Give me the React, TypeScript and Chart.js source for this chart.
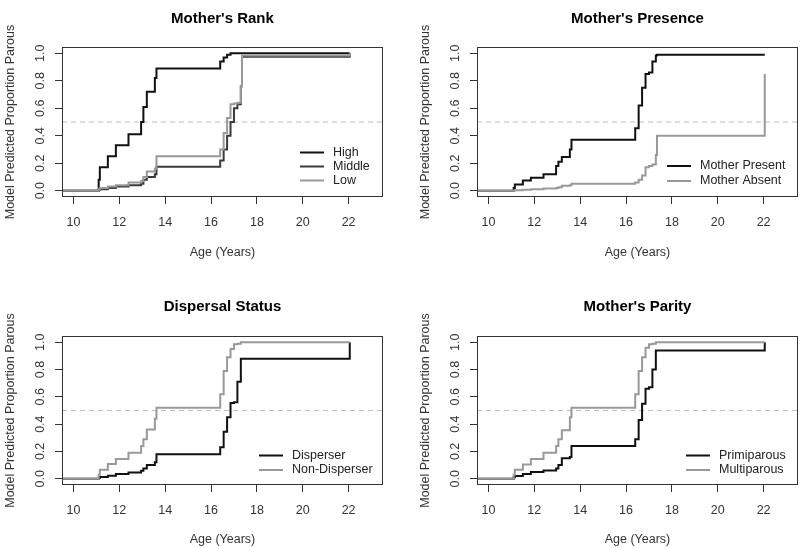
import React, { useEffect, useRef } from 'react';
import { Chart, registerables } from 'chart.js';

Chart.register(...registerables);

// ---------- data ----------
const ageYears = [9.5, 11.1, 11.15, 11.5, 11.85, 12.4, 12.95, 13.05, 13.2, 13.55, 13.62, 16.4, 16.55, 16.7, 16.85, 17.0, 17.15, 17.3, 17.35, 22.05];

const rankHigh = [0, 0.08, 0.17, 0.25, 0.33, 0.41, 0.5, 0.61, 0.72, 0.82, 0.89, 0.94, 0.97, 0.99, 1.0, 1.0, 1.0, 1.0, 1.0, 1.0];
const rankMiddle = [0, 0.005, 0.01, 0.02, 0.03, 0.04, 0.05, 0.08, 0.1, 0.12, 0.175, 0.22, 0.3, 0.4, 0.5, 0.6, 0.63, 0.76, 0.975, 1.0];
const rankLow = [0, 0.01, 0.02, 0.03, 0.04, 0.06, 0.07, 0.1, 0.14, 0.16, 0.25, 0.3, 0.42, 0.53, 0.63, 0.635, 0.64, 0.76, 0.985, 1.0];

const presenceMotherPresent = [0, 0.02, 0.045, 0.075, 0.095, 0.12, 0.18, 0.21, 0.245, 0.3, 0.37, 0.455, 0.62, 0.75, 0.85, 0.86, 0.94, 0.985, 0.99, 0.99];
const presenceMotherAbsent = [0, 0.002, 0.004, 0.007, 0.01, 0.015, 0.02, 0.025, 0.035, 0.04, 0.05, 0.06, 0.08, 0.11, 0.17, 0.18, 0.19, 0.26, 0.4, 0.85];

const dispersalDisperser = [0, 0.005, 0.012, 0.022, 0.034, 0.046, 0.058, 0.075, 0.1, 0.12, 0.18, 0.23, 0.345, 0.45, 0.555, 0.56, 0.71, 0.88, 0.88, 1.0];
const dispersalNonDisperser = [0, 0.03, 0.066, 0.107, 0.145, 0.19, 0.24, 0.29, 0.36, 0.44, 0.52, 0.62, 0.79, 0.89, 0.95, 0.985, 0.99, 1.0, 1.0, 1.0];

const parityPrimiparous = [0, 0.01, 0.02, 0.035, 0.05, 0.06, 0.075, 0.1, 0.15, 0.16, 0.24, 0.29, 0.43, 0.55, 0.66, 0.67, 0.8, 0.94, 0.94, 1.0];
const parityMultiparous = [0, 0.03, 0.066, 0.105, 0.145, 0.19, 0.24, 0.29, 0.355, 0.45, 0.52, 0.62, 0.79, 0.89, 0.96, 0.985, 0.99, 1.0, 1.0, 1.0];

const xTickValues = [10, 12, 14, 16, 18, 20, 22];
const yTickValues = [0, 0.2, 0.4, 0.6, 0.8, 1.0];
const xLimits = [9.5, 23.5];
const yLimits = [-0.046, 1.046];
const referenceLevel = 0.5;

const panelTitles = ["Mother's Rank", "Mother's Presence", 'Dispersal Status', "Mother's Parity"];
const xAxisLabel = 'Age (Years)';
const yAxisLabel = 'Model Predicted Proportion Parous';

const rankLabels = ['High', 'Middle', 'Low'];
const presenceLabels = ['Mother Present', 'Mother Absent'];
const dispersalLabels = ['Disperser', 'Non-Disperser'];
const parityLabels = ['Primiparous', 'Multiparous'];

// ---------- styling / layout ----------
const FONT = '"Liberation Sans", Arial, Helvetica, sans-serif';
const TEXT_SIZE = 12.5;
const BLACK = '#111111';
const DARK = '#3a3a3a';
const GREY = '#999999';
const W = 400;
const H = 274;

type Series = { label: string; values: number[]; color: string };
type Geom = {
  left: number; right: number; top: number; bottom: number;
  titleTop: number; yTitlePad: number; xTitlePad: number;
  legendX: number; legendLastY: number; legendGap: number;
};

const panels: { title: string; series: Series[]; geom: Geom; pos: [number, number] }[] = [
  {
    title: panelTitles[0],
    series: [
      { label: rankLabels[0], values: rankHigh, color: BLACK },
      { label: rankLabels[1], values: rankMiddle, color: DARK },
      { label: rankLabels[2], values: rankLow, color: GREY },
    ],
    geom: { left: 62, right: 383, top: 47, bottom: 197, titleTop: 9.5, yTitlePad: 2.8, xTitlePad: 13.8, legendX: 300, legendLastY: 180.5, legendGap: 14 },
    pos: [0, 0],
  },
  {
    title: panelTitles[1],
    series: [
      { label: presenceLabels[0], values: presenceMotherPresent, color: BLACK },
      { label: presenceLabels[1], values: presenceMotherAbsent, color: GREY },
    ],
    geom: { left: 77, right: 398, top: 47, bottom: 197, titleTop: 9.5, yTitlePad: 18.5, xTitlePad: 13.8, legendX: 267, legendLastY: 181, legendGap: 15 },
    pos: [400, 0],
  },
  {
    title: panelTitles[2],
    series: [
      { label: dispersalLabels[0], values: dispersalDisperser, color: BLACK },
      { label: dispersalLabels[1], values: dispersalNonDisperser, color: GREY },
    ],
    geom: { left: 62, right: 383, top: 62, bottom: 211, titleTop: 24, yTitlePad: 2.8, xTitlePad: 0.5, legendX: 259, legendLastY: 196, legendGap: 14.5 },
    pos: [0, 274],
  },
  {
    title: panelTitles[3],
    series: [
      { label: parityLabels[0], values: parityPrimiparous, color: BLACK },
      { label: parityLabels[1], values: parityMultiparous, color: GREY },
    ],
    geom: { left: 77, right: 398, top: 62, bottom: 211, titleTop: 24, yTitlePad: 18.5, xTitlePad: 0.5, legendX: 286, legendLastY: 196, legendGap: 14.5 },
    pos: [400, 274],
  },
];

const boxPlugin = {
  id: 'rbox',
  afterDatasetsDraw(chart: any) {
    const { ctx, chartArea: a } = chart;
    ctx.save();
    ctx.strokeStyle = '#333333';
    ctx.lineWidth = 1;
    ctx.strokeRect(Math.round(a.left) + 0.5, Math.round(a.top) + 0.5, Math.round(a.right - a.left) - 1, Math.round(a.bottom - a.top) - 1);
    ctx.restore();
  },
};

const legendPlugin = {
  id: 'rlegend',
  afterDraw(chart: any, _args: any, opts: any) {
    const { ctx } = chart;
    const items = chart.data.datasets.filter((d: any) => d.label);
    ctx.save();
    ctx.font = `${TEXT_SIZE}px ${FONT}`;
    ctx.textBaseline = 'middle';
    ctx.textAlign = 'left';
    items.forEach((d: any, i: number) => {
      const y = opts.lastY - (items.length - 1 - i) * opts.gap;
      ctx.strokeStyle = d.borderColor;
      ctx.lineWidth = 2;
      ctx.beginPath();
      ctx.moveTo(opts.x, y);
      ctx.lineTo(opts.x + 24, y);
      ctx.stroke();
      ctx.fillStyle = '#222222';
      ctx.fillText(d.label, opts.x + 33, y);
    });
    ctx.restore();
  },
};

function buildConfig(p: (typeof panels)[number]): any {
  const g = p.geom;
  const n = p.series.length;
  const datasets: any[] = p.series.map((s, i) => ({
    label: s.label,
    data: ageYears.map((t, k) => ({ x: t, y: s.values[k] })),
    borderColor: s.color,
    backgroundColor: s.color,
    borderWidth: 2,
    pointRadius: 0,
    stepped: 'before',
    fill: false,
    order: n - i,
  }));
  datasets.push({
    label: '',
    data: [
      { x: xLimits[0], y: referenceLevel },
      { x: xLimits[1], y: referenceLevel },
    ],
    borderColor: '#bdbdbd',
    borderWidth: 1,
    borderDash: [5, 4],
    pointRadius: 0,
    fill: false,
    order: n + 5,
  });

  const tickFont = { family: FONT, size: TEXT_SIZE, lineHeight: 1.2 };

  return {
    type: 'line',
    data: { datasets },
    options: {
      animation: false,
      responsive: false,
      maintainAspectRatio: false,
      events: [],
      layout: { padding: { left: 0, top: 0, right: W - g.right, bottom: 0 } },
      plugins: {
        legend: { display: false },
        tooltip: { enabled: false },
        title: {
          display: true,
          text: p.title,
          fullSize: false,
          color: '#000000',
          font: { family: FONT, size: 15, weight: 'bold', lineHeight: 1.2 },
          padding: { top: g.titleTop, bottom: g.top - g.titleTop - 18 },
        },
        rlegend: { x: g.legendX, lastY: g.legendLastY, gap: g.legendGap },
      },
      scales: {
        x: {
          type: 'linear',
          min: xLimits[0],
          max: xLimits[1],
          afterBuildTicks: (s: any) => {
            s.ticks = xTickValues.map((v) => ({ value: v }));
          },
          afterFit: (s: any) => {
            s.height = H - g.bottom;
            s.paddingLeft = 0;
            s.paddingRight = 0;
          },
          ticks: {
            autoSkip: false,
            maxRotation: 0,
            minRotation: 0,
            padding: 11.5,
            color: '#333333',
            font: tickFont,
            callback: (v: any) => String(v),
          },
          grid: { display: true, drawOnChartArea: false, drawTicks: true, tickLength: 7, color: '#333333', lineWidth: 1 },
          border: { display: false },
          title: {
            display: true,
            text: xAxisLabel,
            color: '#333333',
            font: tickFont,
            padding: { top: 0, bottom: g.xTitlePad },
          },
        },
        y: {
          type: 'linear',
          min: yLimits[0],
          max: yLimits[1],
          afterBuildTicks: (s: any) => {
            s.ticks = yTickValues.map((v) => ({ value: v }));
          },
          afterFit: (s: any) => {
            s.width = g.left;
            s.paddingTop = 0;
            s.paddingBottom = 0;
          },
          ticks: {
            autoSkip: false,
            minRotation: 90,
            maxRotation: 90,
            crossAlign: 'center',
            padding: 6.2,
            color: '#333333',
            font: tickFont,
            callback: (v: any) => Number(v).toFixed(1),
          },
          grid: { display: true, drawOnChartArea: false, drawTicks: true, tickLength: 7, color: '#333333', lineWidth: 1 },
          border: { display: false },
          title: {
            display: true,
            text: yAxisLabel,
            color: '#333333',
            font: tickFont,
            padding: { top: g.yTitlePad, bottom: 0 },
          },
        },
      },
    },
    plugins: [boxPlugin, legendPlugin],
  };
}

function Panel({ index }: { index: number }) {
  const ref = useRef<HTMLCanvasElement | null>(null);
  useEffect(() => {
    if (!ref.current) return;
    const chart = new Chart(ref.current, buildConfig(panels[index]));
    return () => chart.destroy();
  }, [index]);
  const [left, top] = panels[index].pos;
  return (
    <div style={{ position: 'absolute', left, top, width: W, height: H }}>
      <canvas ref={ref} width={W} height={H} style={{ width: W, height: H, display: 'block' }} />
    </div>
  );
}

export default function App() {
  return (
    <div style={{ position: 'fixed', left: 0, top: 0, width: 800, height: 548, background: '#ffffff', overflow: 'hidden' }}>
      {panels.map((_, i) => (
        <Panel key={i} index={i} />
      ))}
    </div>
  );
}
